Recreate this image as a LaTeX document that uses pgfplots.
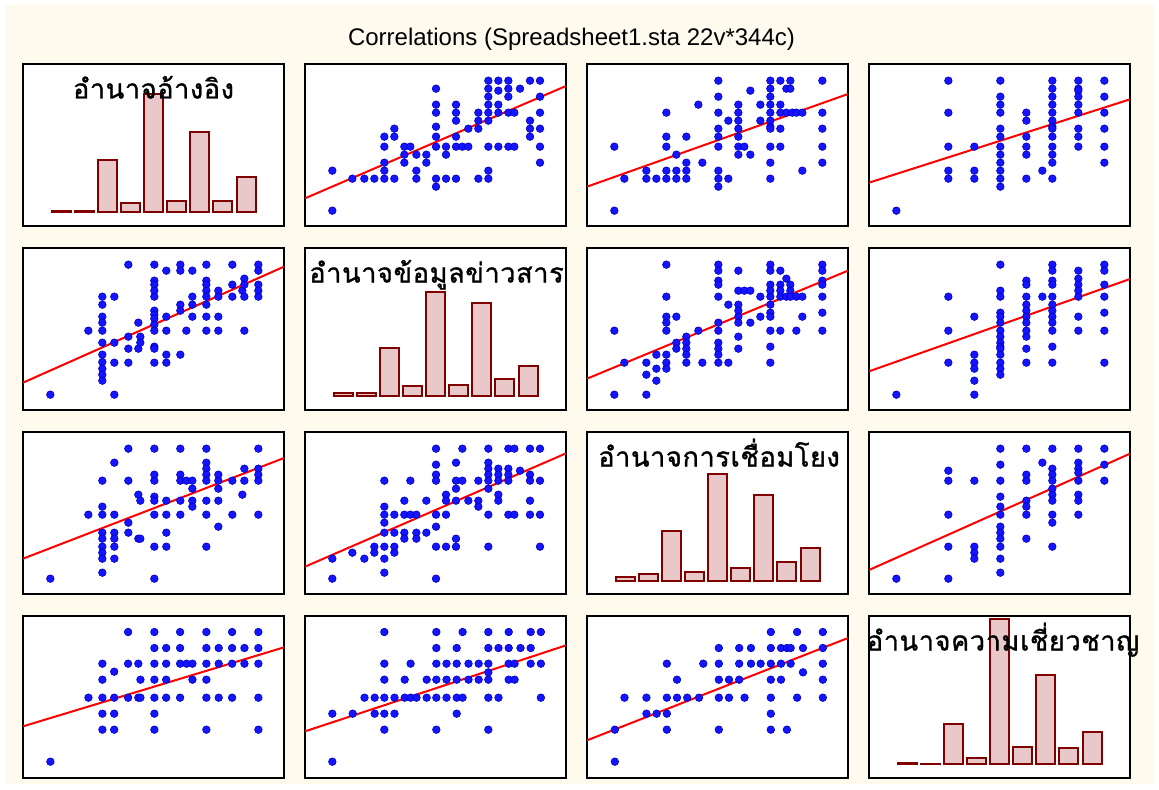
\documentclass[border=0pt]{standalone}
\usepackage{fontspec}
\setmainfont{Liberation Sans}
\newfontfamily\thaifont[Script=Thai,LetterSpace=2.5,FakeBold=1.2]{Loma}
\usepackage{pgfplots}
\pgfplotsset{compat=1.18}
\definecolor{cream}{RGB}{254,250,238}
\definecolor{ptblue}{RGB}{20,20,255}
\definecolor{ptdark}{RGB}{0,0,190}
\definecolor{barfill}{RGB}{232,200,200}
\definecolor{bardark}{RGB}{128,0,0}
\pgfplotsset{
  panel/.style={scale only axis, width=130.5pt, height=81pt, anchor=south west,
    axis line style={line width=1pt}, axis background/.style={fill=white},
    xtick=\empty, ytick=\empty},
  sc/.style={panel, y dir=reverse},
  pts/.style={only marks, mark=*, mark size=1.9pt, mark options={fill=ptblue, draw=ptdark, line width=0.3pt}},
  reg/.style={color=red, line width=1pt, no marks},
  hist/.style={ybar, bar width=19, fill=barfill, draw=bardark, line width=1pt},
}
\tikzset{lab/.style={anchor=base, font=\thaifont\fontsize{13.5pt}{15pt}\selectfont}}
\begin{document}
\begin{tikzpicture}
\begin{scope}[x=0.5pt,y=0.5pt]
\fill[white] (0,0) rectangle (1159,789);
\fill[cream] (5,5) rectangle (1154,784);
\node[anchor=base, font=\fontsize{12pt}{14pt}\selectfont] at (571.5,743) {Correlations (Spreadsheet1.sta 22v*344c)};
\end{scope}

% ---------- Row 1 ----------
\begin{axis}[panel, at={(11.5pt,281.5pt)}, xmin=0, xmax=261, ymin=-13.7, ymax=148.3]
\addplot[hist] coordinates {(38.2,1.5) (61.3,1.5) (84.4,52) (107.5,9.6) (130.6,118.3) (153.7,11.6) (176.8,80) (199.9,11.6) (223,35.6)};
\end{axis}
\begin{axis}[sc, at={(152.5pt,281.5pt)}, xmin=45, xmax=828, ymin=27, ymax=513]
\addplot[reg] coordinates {(45,430) (828,93)};
\addplot[pts] coordinates {(127,347) (127,467) (187,371) (223,371) (253,371) (283,371) (313,371) (283,347) (283,323) (283,275) (283,245) (313,245) (313,221) (343,275) (361,275) (343,299) (343,323) (379,299) (379,347) (379,371) (409,299) (409,323) (438,101) (438,149) (438,173) (438,215) (438,245) (438,275) (438,371) (438,395) (468,275) (468,299) (468,371) (498,149) (498,173) (498,197) (498,245) (498,275) (498,371) (517,275) (535,275) (535,221) (565,173) (565,197) (565,221) (565,371) (595,77) (595,101) (595,125) (595,149) (595,173) (595,197) (595,275) (595,347) (595,371) (625,77) (625,107) (625,149) (625,173) (625,275) (655,77) (655,101) (655,125) (655,173) (655,275) (673,173) (673,275) (690,101) (720,77) (720,197) (720,221) (720,245) (750,77) (750,125) (750,173) (750,221) (750,275) (750,323)};
\end{axis}
\begin{axis}[sc, at={(293.5pt,281.5pt)}, xmin=21, xmax=804, ymin=27, ymax=513]
\addplot[reg] coordinates {(21,395) (804,117)};
\addplot[pts] coordinates {(103,275) (103,467) (133,371) (199,347) (199,371) (229,371) (259,173) (259,245) (259,275) (259,347) (259,371) (289,299) (289,347) (289,371) (319,245) (319,323) (319,347) (319,371) (355,149) (367,323) (415,77) (415,125) (415,173) (415,221) (415,245) (415,275) (415,347) (415,371) (415,395) (445,197) (445,371) (475,149) (475,173) (475,197) (475,221) (475,245) (475,275) (475,299) (493,275) (511,107) (511,299) (541,149) (541,197) (571,77) (571,101) (571,125) (571,149) (571,173) (571,197) (571,215) (571,221) (571,275) (571,323) (571,371) (601,77) (601,149) (601,173) (601,221) (601,275) (619,101) (631,101) (631,77) (619,173) (637,173) (649,173) (667,173) (667,347) (727,77) (727,173) (727,221) (727,275) (727,323)};
\end{axis}
\begin{axis}[sc, at={(434.5pt,281.5pt)}, xmin=27, xmax=810, ymin=27, ymax=513]
\addplot[reg] coordinates {(27,383) (810,133)};
\addplot[pts] coordinates {(109,467) (265,77) (265,173) (265,275) (265,347) (265,371) (343,275) (343,347) (343,371) (421,77) (421,125) (421,149) (421,173) (421,221) (421,245) (421,275) (421,299) (421,323) (421,347) (421,371) (421,395) (499,173) (499,197) (499,245) (499,275) (499,299) (499,371) (547,347) (577,77) (577,101) (577,125) (577,149) (577,173) (577,197) (577,215) (577,221) (577,245) (577,275) (577,299) (577,323) (577,371) (655,77) (655,101) (655,107) (655,125) (655,149) (655,173) (655,221) (655,245) (655,275) (733,77) (733,125) (733,173) (733,221) (733,275) (733,323)};
\end{axis}

% ---------- Row 2 ----------
\begin{axis}[sc, at={(11.5pt,189.5pt)}, xmin=69, xmax=852, ymin=24, ymax=510]
\addplot[reg] coordinates {(69,428) (852,80)};
\addplot[pts] coordinates {(151,464) (265,272) (307,170) (307,194) (307,230) (307,248) (307,272) (307,308) (307,344) (307,366) (307,386) (307,404) (307,422) (343,170) (343,308) (343,368) (343,464) (385,74) (385,290) (385,326) (385,368) (415,248) (421,290) (421,308) (415,326) (463,74) (463,122) (463,134) (463,152) (463,170) (463,212) (463,224) (463,236) (463,254) (463,272) (463,320) (463,326) (463,368) (499,92) (499,230) (499,272) (499,344) (499,368) (541,74) (541,92) (541,194) (541,212) (541,344) (559,272) (577,92) (577,170) (577,194) (577,230) (619,74) (619,122) (619,134) (619,152) (619,170) (619,194) (619,230) (619,272) (655,152) (655,170) (655,230) (655,272) (697,74) (697,134) (697,170) (727,152) (733,116) (733,134) (733,170) (733,272) (775,74) (775,92) (775,134) (775,152) (775,170)};
\end{axis}
\begin{axis}[panel, at={(152.5pt,189.5pt)}, xmin=0, xmax=261, ymin=-14, ymax=148]
\addplot[hist] coordinates {(38.2,2.7) (61.3,2.7) (84.4,48.3) (107.5,10.3) (130.6,103.7) (153.7,11.3) (176.8,93) (199.9,17) (223,30.3)};
\end{axis}
\begin{axis}[sc, at={(293.5pt,189.5pt)}, xmin=21, xmax=804, ymin=24, ymax=510]
\addplot[reg] coordinates {(21,416) (804,92)};
\addplot[pts] coordinates {(103,272) (103,464) (133,368) (199,368) (199,404) (199,464) (229,344) (229,386) (229,422) (259,74) (259,170) (259,230) (259,248) (259,272) (259,344) (259,368) (259,386) (289,230) (289,308) (289,326) (319,290) (319,308) (319,326) (319,344) (319,368) (355,272) (367,368) (415,74) (415,92) (415,122) (415,134) (415,170) (415,248) (415,272) (415,308) (415,326) (415,344) (415,368) (445,194) (445,368) (475,92) (475,152) (475,194) (475,212) (475,230) (475,248) (475,290) (475,326) (493,152) (511,152) (511,248) (541,170) (541,230) (571,74) (571,92) (571,134) (571,152) (571,170) (571,194) (571,218) (571,230) (571,272) (571,320) (571,368) (601,92) (601,134) (601,152) (601,170) (601,272) (619,116) (631,134) (631,152) (619,170) (631,170) (649,170) (667,170) (649,272) (667,230) (727,74) (727,92) (727,122) (727,134) (727,170) (727,218) (727,272)};
\end{axis}
\begin{axis}[sc, at={(434.5pt,189.5pt)}, xmin=27, xmax=810, ymin=24, ymax=510]
\addplot[reg] coordinates {(27,394) (810,117)};
\addplot[pts] coordinates {(109,464) (265,170) (265,272) (265,368) (343,230) (343,344) (343,368) (343,386) (343,422) (343,464) (421,74) (421,152) (421,170) (421,218) (421,230) (421,248) (421,272) (421,290) (421,308) (421,320) (421,326) (421,344) (421,368) (421,386) (421,404) (499,122) (499,134) (499,170) (499,194) (499,212) (499,230) (499,248) (499,272) (499,290) (499,326) (499,368) (547,170) (577,74) (577,92) (577,122) (577,134) (577,170) (577,194) (577,212) (577,230) (577,248) (577,272) (577,320) (577,368) (655,92) (655,116) (655,134) (655,152) (655,170) (655,230) (655,272) (733,74) (733,92) (733,134) (733,170) (733,218) (733,272) (733,368)};
\end{axis}

% ---------- Row 3 ----------
\begin{axis}[sc, at={(11.5pt,97.5pt)}, xmin=69, xmax=852, ymin=21, ymax=507]
\addplot[reg] coordinates {(69,401) (852,99)};
\addplot[pts] coordinates {(151,461) (265,269) (307,167) (307,245) (307,269) (307,323) (307,341) (307,365) (307,383) (307,401) (307,443) (343,113) (343,269) (343,323) (343,341) (343,365) (343,401) (385,71) (385,167) (385,293) (385,323) (415,209) (421,227) (415,341) (421,341) (463,71) (463,149) (463,167) (463,215) (463,227) (463,269) (463,365) (463,461) (499,227) (499,269) (499,323) (499,365) (541,71) (541,149) (541,167) (541,227) (541,269) (559,167) (577,167) (577,191) (577,227) (577,245) (619,71) (619,113) (619,131) (619,149) (619,167) (619,227) (619,269) (619,365) (655,149) (655,167) (655,191) (655,227) (655,305) (697,167) (697,269) (727,209) (733,131) (733,167) (775,71) (775,131) (775,149) (775,167) (775,269)};
\end{axis}
\begin{axis}[sc, at={(152.5pt,97.5pt)}, xmin=45, xmax=828, ymin=21, ymax=507]
\addplot[reg] coordinates {(45,425) (828,85)};
\addplot[pts] coordinates {(127,401) (127,461) (187,383) (223,401) (253,365) (253,383) (283,167) (283,245) (283,269) (283,293) (283,323) (283,365) (283,401) (283,443) (313,269) (313,323) (313,365) (313,383) (343,227) (343,269) (343,323) (343,341) (361,269) (361,167) (379,269) (379,323) (379,341) (409,227) (409,323) (438,71) (438,119) (438,149) (438,167) (438,269) (438,305) (438,365) (438,461) (468,209) (468,227) (468,269) (468,365) (498,113) (498,167) (498,191) (498,227) (498,341) (498,365) (517,71) (517,167) (535,227) (565,167) (565,227) (565,245) (595,71) (595,113) (595,131) (595,149) (595,167) (595,191) (595,269) (595,365) (625,131) (625,149) (625,167) (625,209) (625,227) (655,71) (673,71) (655,131) (655,149) (655,167) (655,269) (673,269) (690,137) (720,71) (720,149) (720,167) (720,227) (720,269) (750,71) (750,167) (750,269) (750,365)};
\end{axis}
\begin{axis}[panel, at={(293.5pt,97.5pt)}, xmin=0, xmax=261, ymin=-13.3, ymax=148.7]
\addplot[hist] coordinates {(38.2,3.7) (61.3,6.4) (84.4,50) (107.5,8.4) (130.6,107) (153.7,13) (176.8,86) (199.9,18.7) (223,33)};
\end{axis}
\begin{axis}[sc, at={(434.5pt,97.5pt)}, xmin=27, xmax=810, ymin=21, ymax=507]
\addplot[reg] coordinates {(27,435) (810,86)};
\addplot[pts] coordinates {(109,461) (265,137) (265,167) (265,269) (265,365) (265,461) (343,167) (343,365) (343,383) (343,401) (421,71) (421,119) (421,167) (421,215) (421,245) (421,269) (421,305) (421,323) (421,341) (421,365) (421,401) (421,443) (499,71) (499,149) (499,167) (499,227) (499,245) (499,269) (499,341) (547,113) (577,71) (577,131) (577,149) (577,167) (577,191) (577,209) (577,227) (577,269) (577,293) (577,365) (655,71) (655,113) (655,131) (655,143) (655,167) (655,209) (655,227) (655,269) (733,71) (733,119) (733,167)};
\end{axis}

% ---------- Row 4 ----------
\begin{axis}[sc, at={(11.5pt,5.5pt)}, xmin=14.9, xmax=501.8, ymin=27, ymax=513]
\addplot[reg] coordinates {(14.9,358) (501.8,121)};
\addplot[pts] coordinates {(66,464) (137,272) (163,170) (163,218) (163,272) (163,320) (163,368) (185,194) (185,272) (185,320) (185,368) (211,75) (211,170) (211,272) (230,170) (234,218) (230,272) (234,272) (260,75) (260,123) (260,170) (260,218) (260,272) (260,320) (260,368) (282,123) (282,170) (282,218) (282,272) (308,75) (308,123) (308,170) (308,272) (320,170) (331,170) (331,218) (357,75) (357,123) (357,170) (357,218) (357,272) (357,368) (380,123) (380,170) (380,272) (405,75) (405,123) (405,170) (405,272) (428,123) (428,170) (454,75) (454,123) (454,170) (454,272) (454,368)};
\end{axis}
\begin{axis}[sc, at={(152.5pt,5.5pt)}, xmin=541, xmax=1027.9, ymin=27, ymax=513]
\addplot[reg] coordinates {(541,373) (1027.9,115)};
\addplot[pts] coordinates {(592,320) (592,464) (630,320) (652,272) (671,272) (671,320) (689,75) (689,170) (689,218) (689,272) (689,320) (689,368) (708,272) (708,320) (727,218) (727,272) (738,170) (738,272) (749,272) (768,218) (768,272) (786,75) (786,123) (786,170) (786,218) (786,272) (786,368) (805,170) (805,218) (805,272) (824,123) (824,170) (824,218) (824,272) (824,320) (835,75) (835,272) (846,170) (846,218) (865,170) (865,218) (883,75) (883,123) (883,170) (883,196) (883,218) (883,272) (883,368) (902,123) (902,272) (921,75) (921,123) (921,170) (921,218) (932,170) (932,218) (943,123) (962,75) (962,123) (962,170) (981,75) (981,170) (981,272)};
\end{axis}
\begin{axis}[sc, at={(293.5pt,5.5pt)}, xmin=1067.1, xmax=1554, ymin=27, ymax=513]
\addplot[reg] coordinates {(1067.1,400) (1554,93)};
\addplot[pts] coordinates {(1119,368) (1119,464) (1137,272) (1178,272) (1178,320) (1197,320) (1216,170) (1216,272) (1216,320) (1216,368) (1235,218) (1235,272) (1254,272) (1276,272) (1284,170) (1313,123) (1313,170) (1313,218) (1313,272) (1313,368) (1332,218) (1332,272) (1351,123) (1351,170) (1351,218) (1361,272) (1373,123) (1373,170) (1391,170) (1410,75) (1410,123) (1410,170) (1410,218) (1410,272) (1410,320) (1410,368) (1429,123) (1429,170) (1429,218) (1440,123) (1447,123) (1447,170) (1440,368) (1459,75) (1459,272) (1470,123) (1470,196) (1507,75) (1507,123) (1507,170) (1507,218) (1507,272)};
\end{axis}
\begin{axis}[panel, at={(434.5pt,5.5pt)}, xmin=0, xmax=261, ymin=-14, ymax=148]
\addplot[hist] coordinates {(38.2,1) (61.3,0.5) (84.4,40) (107.5,6) (130.6,145) (153.7,17) (176.8,89) (199.9,16) (223,32)};
\end{axis}

% ---------- diagonal labels ----------
\begin{scope}[x=0.5pt,y=0.5pt]
\node[lab] at (153.5,690.5) {อำนาจอ้างอิง};
\node[lab] at (436.5,506.5) {อำนาจข้อมูลข่าวสาร};
\node[lab] at (719,322.5) {อำนาจการเชื่อมโยง};
\node[lab] at (1003,138.5) {อำนาจความเชี่ยวชาญ};
\end{scope}
\end{tikzpicture}
\end{document}
